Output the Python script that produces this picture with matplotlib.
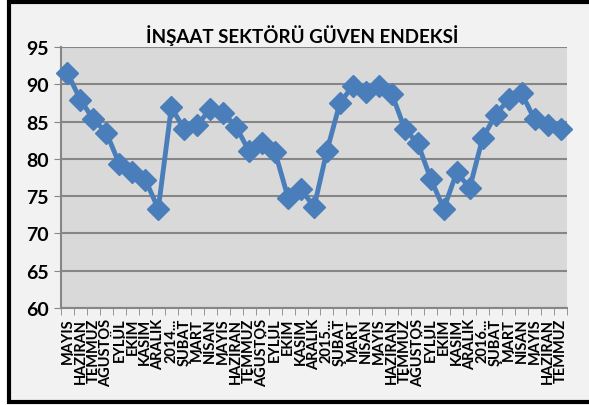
import numpy as np
import matplotlib.pyplot as plt
from matplotlib.patches import Rectangle

plt.rcParams["font.family"] = ["Lato", "DejaVu Sans"]
plt.rcParams["font.weight"] = "bold"

# Data
# ============================================================
months = ['MAYIS', 'HAZİRAN', 'TEMMUZ', 'AĞUSTOS', 'EYLÜL', 'EKİM', 'KASIM', 'ARALIK',
          '2014...', 'ŞUBAT', 'MART', 'NİSAN', 'MAYIS', 'HAZİRAN', 'TEMMUZ', 'AĞUSTOS',
          'EYLÜL', 'EKİM', 'KASIM', 'ARALIK', '2015...', 'ŞUBAT', 'MART', 'NİSAN',
          'MAYIS', 'HAZİRAN', 'TEMMUZ', 'AĞUSTOS', 'EYLÜL', 'EKİM', 'KASIM', 'ARALIK',
          '2016...', 'ŞUBAT', 'MART', 'NİSAN', 'MAYIS', 'HAZİRAN', 'TEMMUZ']
index = [91.5, 87.9, 85.3, 83.5, 79.3, 78.2, 77.2, 73.3,
         86.9, 84.0, 84.5, 86.7, 86.2, 84.3, 81.0, 82.1,
         80.9, 74.8, 76.0, 73.5, 81.1, 87.5, 89.8, 88.9,
         89.8, 88.7, 84.0, 82.1, 77.3, 73.3, 78.2, 76.1,
         82.8, 85.9, 88.0, 88.8, 85.3, 84.6, 84.0]

fig = plt.figure(figsize=(5.89, 4.06), dpi=100)
fig.patch.set_facecolor('white')
# chart frame (right side runs off the picture)
fig.patches.append(Rectangle((9/589, 3/406), 600/589, 400/406, transform=fig.transFigure,
                             facecolor='#f2f2f2', edgecolor='black', linewidth=3, zorder=0))

ax = fig.add_axes([61/589, 1 - 309/406, (567-61)/589, (309-48)/406])
ax.set_zorder(2)
ax.set_facecolor('#d9d9d9')
x = np.arange(len(index))
ax.plot(x, index, color='#4a7ebb', linewidth=3.5, marker='D', markersize=11,
        markeredgecolor='#4a7ebb', clip_on=False, zorder=3)

ax.set_ylim(60, 95)
ax.set_yticks(np.arange(60, 96, 5))
ax.set_xlim(-0.5, len(index) - 0.5)
ax.set_xticks(x)
ax.set_xticklabels(months, rotation=90, fontsize=10.5, fontweight='bold')
ax.set_xticks(np.arange(-0.5, len(index), 1), minor=True)
ax.tick_params(axis='x', which='major', length=0, pad=7)
ax.tick_params(axis='x', which='minor', length=5, color='#868686', direction='out')
ax.tick_params(axis='y', length=5, color='#868686', labelsize=14, pad=4)
for lab in ax.get_yticklabels():
    lab.set_fontweight('bold')
ax.yaxis.grid(True, color='#868686', linewidth=1.5)
ax.set_axisbelow(True)
for s in ['top', 'right']:
    ax.spines[s].set_visible(False)
for s in ['left', 'bottom']:
    ax.spines[s].set_color('#868686')
    ax.spines[s].set_linewidth(1.5)

fig.text(302/589, 1 - 36/406, 'İNŞAAT SEKTÖRÜ GÜVEN ENDEKSİ', ha='center', va='center',
         fontsize=13.5, fontweight='bold', zorder=3)

plt.savefig('out.png', dpi=100)
